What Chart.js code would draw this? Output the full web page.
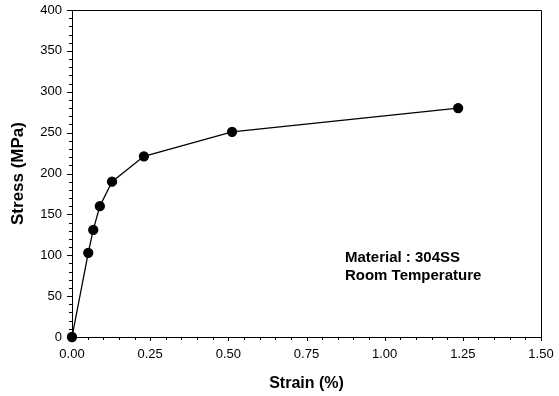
<!DOCTYPE html>
<html>
<head>
<meta charset="utf-8">
<script src="https://cdn.jsdelivr.net/npm/chart.js@4/dist/chart.umd.min.js"></script>
<style>
  html, body { margin: 0; padding: 0; background: #fff; }
  #wrap { width: 559px; height: 396px; }
</style>
</head>
<body>
<div id="wrap"><canvas id="stressChart"></canvas></div>
<script>
// strain (%) and stress (MPa)
const strain = [0, 0.052, 0.068, 0.089, 0.128, 0.23, 0.512, 1.235];
const stress = [0, 103, 131, 160, 190, 221, 251, 280];

const xTicks = [0, 0.25, 0.5, 0.75, 1.0, 1.25, 1.5];
const yTicks = [0, 50, 100, 150, 200, 250, 300, 350, 400];
const notes = ['Material : 304SS', 'Room Temperature'];

const FONT = '"Liberation Sans", Arial, Helvetica, sans-serif';

// minor ticks + frame + text box
const extras = {
  id: 'extras',
  afterDraw(chart) {
    const { ctx, chartArea: a, scales: { x, y } } = chart;
    ctx.save();
    ctx.strokeStyle = '#000';
    ctx.lineWidth = 1;
    ctx.beginPath();
    // top and right edges of the box
    ctx.moveTo(a.left, a.top + 0.5);
    ctx.lineTo(a.right + 0.5, a.top + 0.5);
    ctx.lineTo(a.right + 0.5, a.bottom);
    // x ticks
    for (let v = 0; v <= 1.5001; v += 0.05) {
      const px = Math.round(x.getPixelForValue(v)) + 0.5;
      const major = Math.abs(v / 0.25 - Math.round(v / 0.25)) < 1e-6;
      ctx.moveTo(px, a.bottom);
      ctx.lineTo(px, a.bottom + (major ? 4 : 3));
    }
    // y ticks
    for (let v = 0; v <= 400; v += 10) {
      const py = Math.round(y.getPixelForValue(v)) + 0.5;
      const major = v % 50 === 0;
      ctx.moveTo(a.left, py);
      ctx.lineTo(a.left - (major ? 5 : 3), py);
    }
    ctx.stroke();

    ctx.fillStyle = '#000';
    ctx.font = 'bold 15px ' + FONT;
    ctx.textAlign = 'left';
    ctx.textBaseline = 'alphabetic';
    ctx.fillText(notes[0], x.getPixelForValue(0.873), y.getPixelForValue(92));
    ctx.fillText(notes[1], x.getPixelForValue(0.873), y.getPixelForValue(70));
    ctx.restore();
  }
};

const points = strain.map((s, i) => ({ x: s, y: stress[i] }));

new Chart(document.getElementById('stressChart'), {
  type: 'scatter',
  data: {
    datasets: [
      {
        data: points,
        showLine: true,
        borderColor: '#000',
        borderWidth: 1.3,
        backgroundColor: '#000',
        pointRadius: 4.5,
        pointHoverRadius: 4.5,
        clip: false,
      },
    ],
  },
  options: {
    responsive: true,
    maintainAspectRatio: false,
    animation: false,
    layout: { padding: { top: 10, right: 18, left: 0, bottom: 0 } },
    plugins: {
      legend: { display: false },
      tooltip: { enabled: false },
    },
    scales: {
      x: {
        type: 'linear',
        min: 0,
        max: 1.5,
        afterBuildTicks: (s) => { s.ticks = xTicks.map((v) => ({ value: v })); },
        afterFit: (s) => {
          s.height = 59;
          s.paddingLeft = 0;
          s.paddingRight = 0;
        },
        grid: { display: false, drawTicks: false },
        border: { display: true, color: '#000', width: 1 },
        ticks: {
          color: '#000',
          padding: 10,
          font: { family: FONT, size: 13 },
          callback: (v) => Number(v).toFixed(2),
        },
        title: {
          display: true,
          text: 'Strain (%)',
          color: '#000',
          font: { family: FONT, size: 16, weight: 'bold' },
          padding: { top: 0, bottom: 3 },
        },
      },
      y: {
        type: 'linear',
        min: 0,
        max: 400,
        afterBuildTicks: (s) => { s.ticks = yTicks.map((v) => ({ value: v })); },
        afterFit: (s) => {
          s.width = 72;
          s.paddingTop = 0;
          s.paddingBottom = 0;
        },
        grid: { display: false, drawTicks: false },
        border: { display: true, color: '#000', width: 1 },
        ticks: {
          color: '#000',
          padding: 10,
          font: { family: FONT, size: 13 },
        },
        title: {
          display: true,
          text: 'Stress (MPa)',
          color: '#000',
          font: { family: FONT, size: 17, weight: 'bold' },
          padding: { top: 8, bottom: 0 },
        },
      },
    },
  },
  plugins: [extras],
});
</script>
</body>
</html>
